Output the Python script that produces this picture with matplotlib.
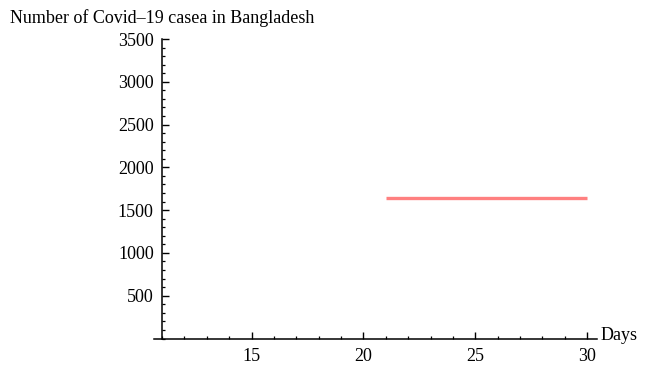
import matplotlib
matplotlib.use('Agg')
import matplotlib.pyplot as plt
from matplotlib.ticker import MultipleLocator

plt.rcParams['font.family'] = ['Liberation Serif', 'DejaVu Serif']

# data
days = [21, 30]
cases = [1640, 1640]
x_ticks = [15, 20, 25, 30]
y_ticks = [500, 1000, 1500, 2000, 2500, 3000, 3500]

W, H = 646, 368
fig = plt.figure(figsize=(W / 100, H / 100), dpi=100)

# axes box in pixel terms
left, right, top, bottom = 154, 597, 39, 338.5
ax = fig.add_axes([left / W, 1 - bottom / H, (right - left) / W, (bottom - top) / H])

ax.plot(days, cases, color='#ff8080', lw=2.4, solid_capstyle='butt')

ax.set_xlim(10.64, 30.44)
ax.set_ylim(0, 3500)

ax.spines['top'].set_visible(False)
ax.spines['right'].set_visible(False)
ax.spines['left'].set_position(('data', 11))
for s in ['left', 'bottom']:
    ax.spines[s].set_linewidth(1.1)

ax.set_xticks(x_ticks)
ax.set_yticks(y_ticks)
ax.xaxis.set_minor_locator(MultipleLocator(1))
ax.yaxis.set_minor_locator(MultipleLocator(100))
ax.tick_params(which='major', direction='in', length=5, width=1, labelsize=13)
ax.tick_params(which='minor', direction='in', length=2.5, width=0.9)
ax.tick_params(axis='x', which='major', pad=7)
ax.tick_params(axis='y', which='major', pad=6)

fig.text(10 / W, 1 - 18 / H, 'Number of Covid\u201319 casea in Bangladesh',
         fontsize=13, ha='left', va='center')
ax.text(1.008, 0.01, 'Days', transform=ax.transAxes, fontsize=13,
        ha='left', va='center')

fig.savefig('out.png', dpi=100)
